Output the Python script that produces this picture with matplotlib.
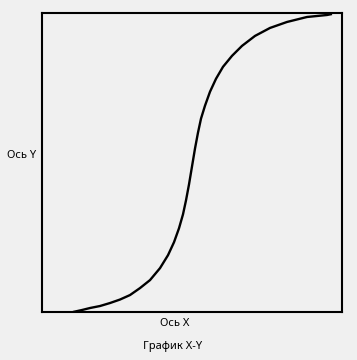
import matplotlib
matplotlib.use("Agg")
import matplotlib.pyplot as plt

# points (axes 0..300 both ways)
x_vals = [31, 40, 48, 58, 68, 78, 88, 98, 108, 118, 126, 132, 137, 141, 144,
          147, 150, 153, 156, 159, 163, 168, 174, 181, 190, 200, 213, 228,
          245, 265, 285, 290]
y_vals = [0, 2, 4, 6, 9, 12.5, 17, 24, 32, 44, 57, 70, 84, 98, 112,
          128, 146, 164, 180, 194, 207, 221, 234, 246, 257, 267, 277, 285,
          291, 296, 298, 299]

x_label = "Ось X"
y_label = "Ось Y"
title = "График X-Y"

bg = "#f0f0f0"
plt.rcParams['font.family'] = ['Noto Sans', 'DejaVu Sans']

fig = plt.figure(figsize=(3.57, 3.60), dpi=100, facecolor=bg)
ax = fig.add_axes([42 / 357, 48 / 360, 300 / 357, 299 / 360])
ax.set_facecolor(bg)

ax.plot(x_vals, y_vals, color="black", linewidth=1.7,
        solid_joinstyle="round", solid_capstyle="butt")
ax.set_xlim(0, 300)
ax.set_ylim(0, 300)
ax.set_xticks([])
ax.set_yticks([])
for s in ax.spines.values():
    s.set_linewidth(1.5)
    s.set_color("black")

fig.text(22 / 357, 1 - 156 / 360, y_label, ha="center", va="center", fontsize=8)
fig.text(175 / 357, 1 - 323 / 360, x_label, ha="center", va="center", fontsize=8)
fig.text(173 / 357, 1 - 347 / 360, title, ha="center", va="center", fontsize=8)

fig.savefig("out.png", dpi=100, facecolor=bg)
